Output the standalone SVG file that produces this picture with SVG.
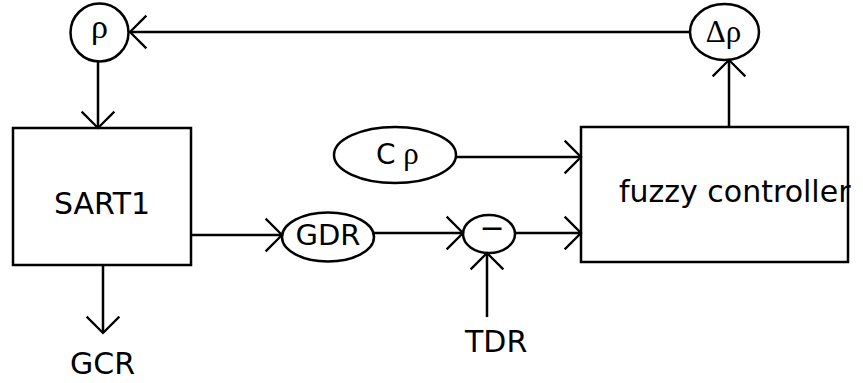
<svg xmlns="http://www.w3.org/2000/svg" width="863" height="383" viewBox="0 0 863 383">
<style>
.shape{fill:#fff;stroke:#000;stroke-width:2.5}
.conn line{stroke:#000;stroke-width:2.5;fill:none;marker-end:url(#arr)}
.sans{font-family:"DejaVu Sans",Verdana,sans-serif;font-size:30px;fill:#000}
.greek{font-family:"Liberation Serif","DejaVu Serif",serif;font-size:34px;fill:#000}
</style>
<defs>
<marker id="arr" markerUnits="userSpaceOnUse" markerWidth="40" markerHeight="40" viewBox="-22 -22 44 44" refX="0" refY="0" orient="auto">
<path d="M-18,-18 L0,0 L-18,18" fill="none" stroke="#000" stroke-width="2.5"/>
</marker>
</defs>
<rect width="863" height="383" fill="#fff"/>
<g id="rho">
<circle class="shape" cx="99.5" cy="32.5" r="29"/>
<text class="greek" x="99.5" y="38" text-anchor="middle">ρ</text>
</g>
<g id="delta-rho">
<ellipse class="shape" cx="724.5" cy="32" rx="34.5" ry="28"/>
<text class="greek" x="723.5" y="42" text-anchor="middle" style="font-size:31px">Δρ</text>
</g>
<g id="sart1">
<rect class="shape" x="13" y="128" width="178" height="137"/>
<text class="sans" x="54" y="214">SART1</text>
</g>
<g id="fuzzy">
<rect class="shape" x="581" y="127" width="267" height="135"/>
<text class="sans" x="619" y="202">fuzzy controller</text>
</g>
<g id="c-rho">
<ellipse class="shape" cx="395" cy="155" rx="61" ry="28"/>
<text x="376" y="164"><tspan class="sans" style="font-size:28px">C</tspan><tspan class="greek" style="font-size:31px"> ρ</tspan></text>
</g>
<g id="gdr">
<ellipse class="shape" cx="328" cy="237" rx="46" ry="24.5"/>
<text class="sans" x="295.5" y="245" style="font-size:29px">GDR</text>
</g>
<g id="minus">
<ellipse class="shape" cx="489" cy="234" rx="26" ry="19"/>
<text class="sans" x="492" y="238" text-anchor="middle">−</text>
</g>
<g id="tdr">
<text class="sans" x="465" y="352">TDR</text>
</g>
<g id="gcr">
<text class="sans" x="70" y="374">GCR</text>
</g>
<g id="connectors" class="conn">
<line x1="690" y1="32" x2="130" y2="32"/>
<line x1="98" y1="62" x2="98" y2="128"/>
<line x1="729" y1="127" x2="729" y2="60"/>
<line x1="456" y1="157" x2="581" y2="157"/>
<line x1="191" y1="235" x2="282" y2="235"/>
<line x1="374" y1="233" x2="463" y2="233"/>
<line x1="515" y1="233" x2="581" y2="233"/>
<line x1="487" y1="317" x2="487" y2="253"/>
<line x1="103" y1="265" x2="103" y2="333"/>
</g>
</svg>
